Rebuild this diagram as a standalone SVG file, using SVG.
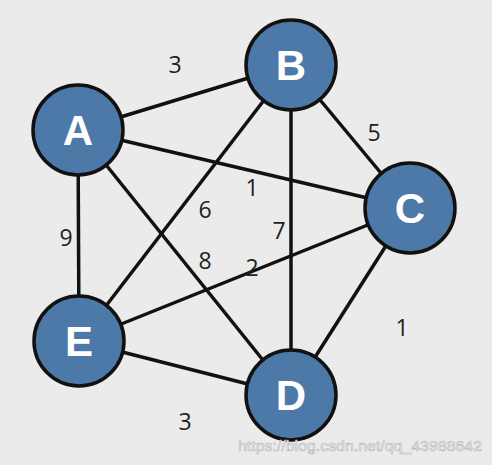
<svg xmlns="http://www.w3.org/2000/svg" width="492" height="465" viewBox="0 0 492 465">
<style>
.edge{stroke:#111;stroke-width:3.5;fill:none}
.node circle{fill:#4d79a8;stroke:#111;stroke-width:3.5}
.node text{fill:#fff;font-family:"Liberation Sans",Arial,sans-serif;font-weight:bold;font-size:42px;text-anchor:middle}
.w{fill:#222;font-family:"Open Sans","Liberation Sans",sans-serif;font-size:23px;text-anchor:middle}
</style>
<rect width="492" height="465" fill="#ebebeb"/>
<g id="connectors">
<line class="edge" x1="78" y1="130" x2="291" y2="65"/>
<line class="edge" x1="78" y1="130" x2="410" y2="208"/>
<line class="edge" x1="78" y1="130" x2="79" y2="341"/>
<line class="edge" x1="78" y1="130" x2="291" y2="395"/>
<line class="edge" x1="291" y1="65" x2="410" y2="208"/>
<line class="edge" x1="291" y1="65" x2="79" y2="341"/>
<line class="edge" x1="291" y1="65" x2="291" y2="395"/>
<line class="edge" x1="410" y1="208" x2="79" y2="341"/>
<line class="edge" x1="410" y1="208" x2="291" y2="395"/>
<line class="edge" x1="79" y1="341" x2="291" y2="395"/>
</g>
<g id="weights">
<text class="w" x="175" y="73">3</text>
<text class="w" x="374" y="141">5</text>
<text class="w" x="252" y="196">1</text>
<text class="w" x="205" y="218">6</text>
<text class="w" x="279" y="239">7</text>
<text class="w" x="205" y="269">8</text>
<text class="w" x="252" y="276">2</text>
<text class="w" x="66" y="246">9</text>
<text class="w" x="402" y="336">1</text>
<text class="w" x="185" y="430">3</text>
</g>
<g id="A" class="node"><circle cx="78" cy="130" r="45"/><text x="78" y="145">A</text></g>
<g id="B" class="node"><circle cx="291" cy="65" r="45"/><text x="291" y="80">B</text></g>
<g id="C" class="node"><circle cx="410" cy="208" r="45"/><text x="410" y="223">C</text></g>
<g id="E" class="node"><circle cx="79" cy="341" r="45"/><text x="79" y="356">E</text></g>
<g id="D" class="node"><circle cx="291" cy="395" r="45"/><text x="291" y="410">D</text></g>
<text x="238" y="451" textLength="244" lengthAdjust="spacingAndGlyphs" style="fill:#f4f4f4;stroke:#b8b8b8;stroke-width:0.6;font-family:'Liberation Sans',sans-serif;font-size:15px">https://blog.csdn.net/qq_43988642</text>
</svg>
